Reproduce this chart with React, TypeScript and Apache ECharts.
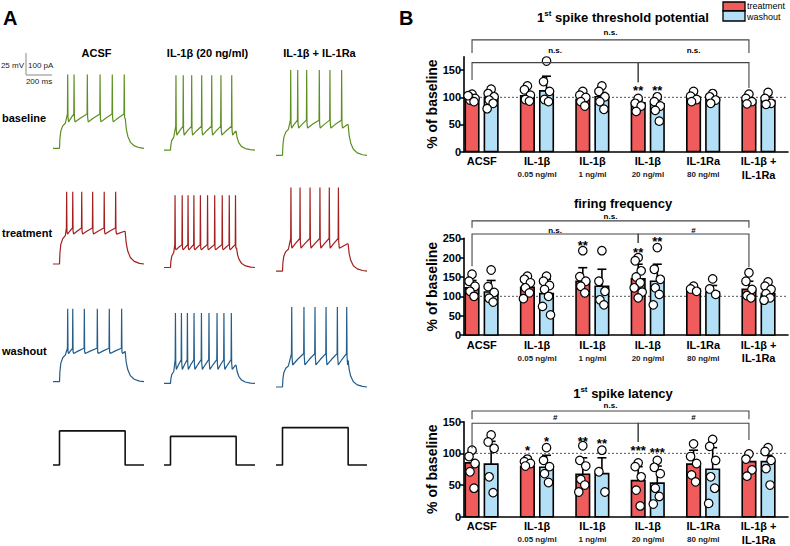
import React, { useEffect, useRef } from 'react';
import * as echarts from 'echarts';

// ---------------- Panel B data ----------------
const groupNames = ['ACSF', 'IL-1β', 'IL-1β', 'IL-1β', 'IL-1Ra', 'IL-1β +'];
const groupDoses = ['', '0.05 ng/ml', '1 ng/ml', '20 ng/ml', '80 ng/ml', 'IL-1Ra'];

// 1st spike threshold potential
const thrTreatMean = [100, 103, 96, 90, 100, 95];
const thrTreatSem = [3, 5, 4, 5, 2, 3];
const thrWashMean = [100, 112, 101, 88, 98, 94];
const thrWashSem = [5, 27, 8, 8, 3, 6];
const thrTreatPts = [[106, 101, 98, 95, 92, 103], [121, 114, 104, 96, 93], [111, 104, 100, 92, 84], [98, 89, 84, 74], [111, 102, 96, 92], [106, 98, 92, 88]];
const thrWashPts = [[115, 107, 101, 95, 89, 79], [167, 129, 111, 96, 92], [121, 111, 101, 92, 78], [101, 92, 84, 76, 56], [107, 101, 95, 89], [109, 98, 89, 87]];

// firing frequency
const freqTreatMean = [122, 123, 139, 145, 118, 118];
const freqTreatSem = [19, 19, 35, 38, 3, 21];
const freqWashMean = [111, 107, 126, 139, 111, 107];
const freqWashSem = [30, 37, 44, 44, 17, 18];
const freqTreatPts = [[157, 139, 126, 113, 100], [152, 144, 135, 122, 109, 94], [218, 151, 139, 126, 109], [200, 192, 166, 150, 135, 122, 111, 96], [126, 119, 113], [161, 139, 118, 102, 96]];
const freqWashPts = [[168, 125, 110, 95, 85], [152, 139, 128, 118, 100, 74, 52], [218, 139, 113, 91, 78], [226, 170, 144, 122, 105, 78], [145, 119, 105], [137, 126, 118, 107, 96, 90]];

// 1st spike latency
const latTreatMean = [85, 79, 67, 57, 83, 87];
const latTreatSem = [18, 10, 26, 22, 22, 13];
const latWashMean = [83, 78, 68, 53, 75, 87];
const latWashSem = [36, 19, 25, 27, 34, 10];
const latTreatPts = [[105, 95, 84, 71, 45], [91, 87, 84, 80], [112, 89, 80, 59, 50, 39], [85, 79, 63, 42, 17], [115, 95, 84, 66, 55], [99, 91, 74, 64]];
const latWashPts = [[129, 118, 108, 63, 38], [109, 89, 79, 68, 54], [105, 71, 39], [89, 78, 68, 45, 32, 20], [122, 111, 89, 63, 45, 21], [109, 103, 89, 76, 50]];

// significance vs baseline: [group, side(0 treat,1 wash), label, y]
const thrStars = [[3, 0, '**', 112], [3, 1, '**', 112]];
const freqStars = [[2, 0, '**', 232], [3, 0, '**', 213], [3, 1, '**', 241]];
const latStars = [[1, 0, '*', 104], [1, 1, '*', 118], [2, 0, '**', 119], [2, 1, '**', 116], [3, 0, '***', 104], [3, 1, '***', 101]];

// comparisons between groups: [from, to]
const comparisons = [[0, 5], [0, 3], [3, 5]];
const thrCompLabels = ['n.s.', 'n.s.', 'n.s.'];
const freqCompLabels = ['n.s.', 'n.s.', '#'];
const latCompLabels = ['n.s.', '#', '#'];

// ---------------- Panel A data ----------------
const colTitles = ['ACSF', 'IL-1β (20 ng/ml)', 'IL-1β + IL-1Ra'];
const rowTitles = ['baseline', 'treatment', 'washout'];
// spike times (ms) per row / column
const baselineSpikes = [[113, 162, 264, 362, 456, 548], [92, 148, 213, 290, 367, 438, 521], [113, 167, 236, 333, 415, 505]];
const treatmentSpikes = [[105, 152, 221, 305, 394, 482], [85, 140, 185, 230, 280, 335, 390, 448, 502, 550], [115, 185, 262, 338, 410, 480]];
const washoutSpikes = [[113, 152, 241, 341, 433, 528], [88, 134, 180, 231, 288, 346, 408, 461, 518], [121, 215, 300, 385, 472, 544]];
// membrane levels (mV): rest, plateau trough, spike threshold, spike peak
const restMv = [[-70, -72, -78], [-70, -74, -78], [-70, -72, -76]];
const plateauMv = [[-40, -55, -47], [-36, -54, -52], [-38, -56, -51]];
const thresholdMv = [[-31, -45, -38], [-29, -48, -41], [-32, -45, -38]];
const peakMv = [[14, 13, 19], [12, 8, 17], [13, 8, 15]];
const stepPa = [155, 130, 170];
const sweepMs = { on: 50, off: 555, end: 700 };

// ---------------- layout ----------------
const FONT = '"Liberation Sans", Arial, Helvetica, sans-serif';
const RED = '#F05B5B';
const BLUE = '#B3E0F6';
const traceColors = ['#5E8F22', '#A3201F', '#225D8C'];
const BL = 464, BW = 324;
const X_MIN = -0.32, X_MAX = 5.53;
const UNIT_PX = BW / (X_MAX - X_MIN);
const OFF_T = -0.175, OFF_W = 0.17;
const JIT_PX = [0, -3, 3, -2, 2, -4, 4, 0, -1];
const bGrids = [
  { top: 56.7, height: 94.8, max: 175 },
  { top: 238.3, height: 96.7, max: 250 },
  { top: 421.7, height: 95, max: 150 },
];
// bracket geometry (data units): [top, dropLeft, dropRight, labelY]
const bracketGeom = [
  [[206, 182, 182, 219], [164, 132, 128, 187], [164, 128, 117, 187]],
  [[295, 277, 277, 306], [261, 178, 238, 271], [261, 238, 176, 271]],
  [[167, 154, 154, 175], [147.5, 108, 118, 156], [147.5, 118, 121, 156]],
];
const colLeft = [53, 164, 276];
const traceW = 91;
const MV_PX = 0.88;
const rowZero = [86.7, 202.4, 320.1];
const curTop = 421, PA_PX = 0.22;

function buildTrace(sp: number[], R: number, P: number, T: number, S: number) {
  const pts: number[][] = [[0, R], [sweepMs.on, R]];
  const first = sp[0];
  const charge = [[3, 0.35], [10, 0.65], [25, 0.85], [45, 0.95]];
  for (const [dt, f] of charge) if (sweepMs.on + dt < first - 3) pts.push([sweepMs.on + dt, R + (P - R) * f]);
  sp.forEach((t, i) => {
    pts.push([t - 2, T]);
    pts.push([t, S]);
    pts.push([t + 2.5, T - 4]);
    const next = sp[i + 1];
    const trough = t + 7;
    if (next !== undefined) {
      pts.push([trough, P]);
      pts.push([trough + (next - trough) * 0.45, P + (T - P) * 0.5]);
    } else if (trough < sweepMs.off) {
      pts.push([trough, P]);
      if (sweepMs.off - trough > 20) pts.push([sweepMs.off - 5, P + (T - P) * 0.45]);
    }
  });
  const lastT = Math.max(sweepMs.off, sp[sp.length - 1] + 8);
  const vEnd = P + (T - P) * 0.4;
  pts.push([lastT, vEnd]);
  const decay = [[8, 0.35], [20, 0.6], [40, 0.8], [70, 0.92], [110, 0.98]];
  for (const [dt, f] of decay) pts.push([lastT + dt, vEnd + (R - vEnd) * f]);
  pts.push([sweepMs.end, R]);
  return pts;
}

export default function App() {
  const ref = useRef<HTMLDivElement>(null);
  useEffect(() => {
    if (!ref.current) return;
    const chart = echarts.init(ref.current, undefined, { renderer: 'svg' });

    const grid: any[] = [];
    const xAxis: any[] = [];
    const yAxis: any[] = [];
    const series: any[] = [];

    const chartsData = [
      { tm: thrTreatMean, ts: thrTreatSem, wm: thrWashMean, ws: thrWashSem, tp: thrTreatPts, wp: thrWashPts, stars: thrStars, labels: thrCompLabels },
      { tm: freqTreatMean, ts: freqTreatSem, wm: freqWashMean, ws: freqWashSem, tp: freqTreatPts, wp: freqWashPts, stars: freqStars, labels: freqCompLabels },
      { tm: latTreatMean, ts: latTreatSem, wm: latWashMean, ws: latWashSem, tp: latTreatPts, wp: latWashPts, stars: latStars, labels: latCompLabels },
    ];

    chartsData.forEach((cd, k) => {
      const g = bGrids[k];
      grid.push({ left: BL, top: g.top, width: BW, height: g.height });
      const ticks: number[] = [];
      for (let v = 0; v <= g.max; v += 50) ticks.push(v);
      xAxis.push({
        type: 'value', gridIndex: k, min: X_MIN, max: X_MAX,
        splitLine: { show: false },
        axisLine: { show: true, onZero: false, lineStyle: { color: '#000', width: 1.6 } },
        axisTick: { show: false },
        axisLabel: {
          customValues: [0, 1, 2, 3, 4, 5], margin: 3, color: '#000',
          formatter: (v: number) => {
            const i = Math.round(v);
            return i === 5 ? `{a|${groupNames[i]}}\n{c|${groupDoses[i]}}` : `{a|${groupNames[i]}}\n{b|${groupDoses[i] || ' '}}`;
          },
          rich: {
            a: { fontFamily: FONT, fontSize: 11, fontWeight: 'bold', lineHeight: 13, color: '#000' },
            b: { fontFamily: FONT, fontSize: 8, fontWeight: 'bold', lineHeight: 14, color: '#222' },
            c: { fontFamily: FONT, fontSize: 11, fontWeight: 'bold', lineHeight: 14, color: '#000' },
          },
        },
      });
      yAxis.push({
        type: 'value', gridIndex: k, min: 0, max: g.max,
        name: '% of baseline', nameLocation: 'middle', nameGap: 25,
        nameTextStyle: { fontFamily: FONT, fontSize: 14, fontWeight: 'bold', color: '#000' },
        splitLine: { show: false },
        axisLine: { show: true, onZero: false, lineStyle: { color: '#000', width: 1.6 } },
        axisTick: { show: true, length: 4, customValues: ticks, lineStyle: { color: '#000', width: 1.5 } },
        axisLabel: { customValues: ticks, margin: 3, fontFamily: FONT, fontSize: 11, fontWeight: 'bold', color: '#000' },
      });
      // reference line at 100 %
      series.push({
        type: 'line', xAxisIndex: k, yAxisIndex: k, z: 1, silent: true, symbol: 'none',
        data: [[X_MIN, 100], [X_MAX, 100]],
        lineStyle: { color: '#555', width: 1, type: [2, 2] },
      });
      // bars + error bars
      const barData: number[][] = [];
      for (let i = 0; i < 6; i++) {
        barData.push([i, cd.tm[i], cd.ts[i], OFF_T, 0]);
        barData.push([i, cd.wm[i], cd.ws[i], OFF_W, 1]);
      }
      series.push({
        type: 'custom', xAxisIndex: k, yAxisIndex: k, z: 2, silent: true,
        data: barData, encode: { x: 0, y: 1 },
        renderItem: (_p: any, api: any) => {
          const gi = api.value(0), m = api.value(1), s = api.value(2), off = api.value(3), side = api.value(4);
          const top = api.coord([gi + off, m]);
          const base = api.coord([gi + off, 0]);
          const err = api.coord([gi + off, m + s]);
          const bw = 13.5;
          return {
            type: 'group',
            children: [
              { type: 'line', shape: { x1: top[0], y1: top[1], x2: top[0], y2: err[1] }, style: { stroke: '#000', lineWidth: 1.6 } },
              { type: 'line', shape: { x1: top[0] - 4.5, y1: err[1], x2: top[0] + 4.5, y2: err[1] }, style: { stroke: '#000', lineWidth: 1.6 } },
              { type: 'rect', shape: { x: top[0] - bw / 2, y: top[1], width: bw, height: base[1] - top[1] }, style: { fill: side === 0 ? RED : BLUE, stroke: '#000', lineWidth: 1.6 } },
            ],
          };
        },
      });
      // individual points
      const pts: number[][] = [];
      cd.tp.forEach((arr, i) => arr.forEach((v, j) => pts.push([i + OFF_T + JIT_PX[j % JIT_PX.length] / UNIT_PX, v])));
      cd.wp.forEach((arr, i) => arr.forEach((v, j) => pts.push([i + OFF_W + JIT_PX[j % JIT_PX.length] / UNIT_PX, v])));
      series.push({
        type: 'scatter', xAxisIndex: k, yAxisIndex: k, z: 3, silent: true, symbolSize: 8.5,
        data: pts, itemStyle: { color: '#fff', borderColor: '#000', borderWidth: 1.2, opacity: 1 },
      });
      // stars
      series.push({
        type: 'custom', xAxisIndex: k, yAxisIndex: k, z: 4, silent: true,
        data: cd.stars.map((s: any) => [s[0], s[3], s[1]]), encode: { x: 0, y: 1 },
        renderItem: (p: any, api: any) => {
          const st = cd.stars[p.dataIndex] as any[];
          const pos = api.coord([api.value(0) + (api.value(2) === 0 ? OFF_T : OFF_W), api.value(1)]);
          return { type: 'text', x: pos[0], y: pos[1], style: { text: st[2], fill: '#000', font: `bold 13px ${FONT}`, align: 'center', verticalAlign: 'middle' } };
        },
      });
      // comparison brackets
      series.push({
        type: 'custom', xAxisIndex: k, yAxisIndex: k, z: 4, silent: true, clip: false,
        data: comparisons.map((c) => [c[0], c[1]]),
        renderItem: (p: any, api: any) => {
          const c = comparisons[p.dataIndex];
          const geo = bracketGeom[k][p.dataIndex];
          const xl = c[0] + OFF_T, xr = c[1] + OFF_T;
          const a = api.coord([xl, geo[1]]);
          const b = api.coord([xl, geo[0]]);
          const cc = api.coord([xr, geo[0]]);
          const d = api.coord([xr, geo[2]]);
          const t = api.coord([(xl + xr) / 2, geo[3]]);
          return {
            type: 'group',
            children: [
              { type: 'polyline', shape: { points: [a, b, cc, d] }, style: { stroke: '#444', lineWidth: 1.1, fill: 'none' } },
              { type: 'text', x: t[0], y: t[1], style: { text: cd.labels[p.dataIndex], fill: '#000', font: `bold 8px ${FONT}`, align: 'center', verticalAlign: 'middle' } },
            ],
          };
        },
      });
    });

    // Panel A traces
    const spikeRows = [baselineSpikes, treatmentSpikes, washoutSpikes];
    let gi = 3;
    for (let r = 0; r < 3; r++) {
      for (let c = 0; c < 3; c++) {
        grid.push({ left: colLeft[c], top: rowZero[r] - 30 * MV_PX, width: traceW, height: 120 * MV_PX });
        xAxis.push({ type: 'value', gridIndex: gi, min: 0, max: sweepMs.end, show: false });
        yAxis.push({ type: 'value', gridIndex: gi, min: -90, max: 30, show: false });
        series.push({
          type: 'line', xAxisIndex: gi, yAxisIndex: gi, symbol: 'none', silent: true,
          data: buildTrace(spikeRows[r][c], restMv[r][c], plateauMv[r][c], thresholdMv[r][c], peakMv[r][c]),
          lineStyle: { color: traceColors[r], width: 1.2 },
        });
        gi++;
      }
    }
    for (let c = 0; c < 3; c++) {
      grid.push({ left: colLeft[c], top: curTop, width: traceW, height: 220 * PA_PX });
      xAxis.push({ type: 'value', gridIndex: gi, min: 0, max: sweepMs.end, show: false });
      yAxis.push({ type: 'value', gridIndex: gi, min: -20, max: 200, show: false });
      const I = stepPa[c];
      series.push({
        type: 'line', xAxisIndex: gi, yAxisIndex: gi, symbol: 'none', silent: true,
        data: [[0, 0], [sweepMs.on, 0], [sweepMs.on, I], [sweepMs.off, I], [sweepMs.off, 0], [sweepMs.end, 0]],
        lineStyle: { color: '#111', width: 1.6 },
      });
      gi++;
    }

    const txt = (x: number, y: number, text: string, size: number, weight = 'bold', align = 'left', color = '#000') => ({
      type: 'text', x, y, silent: true,
      style: { text, fill: color, font: `${weight} ${size}px ${FONT}`, align, verticalAlign: 'middle' },
    });
    const titleRich = {
      a: { fontFamily: FONT, fontSize: 13, fontWeight: 'bold', color: '#000', lineHeight: 16 },
      s: { fontFamily: FONT, fontSize: 8, fontWeight: 'bold', color: '#000', lineHeight: 16, verticalAlign: 'top', padding: [0, 0, 4, 0] },
    };
    const graphic: any[] = [
      txt(3, 18, 'A', 20),
      txt(399, 18, 'B', 20),
      ...colTitles.map((t, i) => txt(colLeft[i] + traceW / 2 - 2, 53, t, 11, 'bold', 'center')),
      ...rowTitles.map((t, i) => txt(2, [118, 233, 351][i], t, 11, 'bold', 'left')),
      // scale bar
      { type: 'line', silent: true, shape: { x1: 26, y1: 53, x2: 26, y2: 75 }, style: { stroke: '#888', lineWidth: 1 } },
      { type: 'line', silent: true, shape: { x1: 26, y1: 75, x2: 52, y2: 75 }, style: { stroke: '#888', lineWidth: 1 } },
      txt(24, 65, '25 mV', 8, 'normal', 'right', '#222'),
      txt(28, 65, '100 pA', 8, 'normal', 'left', '#222'),
      txt(39, 81, '200 ms', 8, 'normal', 'center', '#222'),
      // legend
      { type: 'rect', silent: true, shape: { x: 723, y: 2, width: 22, height: 9 }, style: { fill: RED, stroke: '#000', lineWidth: 1.3 } },
      { type: 'rect', silent: true, shape: { x: 723, y: 11, width: 22, height: 10 }, style: { fill: BLUE, stroke: '#000', lineWidth: 1.3 } },
      txt(747, 6, 'treatment', 9, 'normal', 'left'),
      txt(747, 16.5, 'washout', 9, 'normal', 'left'),
      // chart titles
      { type: 'text', silent: true, x: 623, y: 17, style: { text: '{a|1}{s|st}{a| spike threshold potential}', rich: titleRich, align: 'center', verticalAlign: 'middle' } },
      { type: 'text', silent: true, x: 623, y: 203, style: { text: '{a|firing frequency}', rich: titleRich, align: 'center', verticalAlign: 'middle' } },
      { type: 'text', silent: true, x: 623, y: 393, style: { text: '{a|1}{s|st}{a| spike latency}', rich: titleRich, align: 'center', verticalAlign: 'middle' } },
    ];

    chart.setOption({
      animation: false,
      backgroundColor: '#fff',
      grid, xAxis, yAxis, series, graphic,
    });
    return () => chart.dispose();
  }, []);
  return <div ref={ref} style={{ position: 'absolute', left: 0, top: 0, width: 790, height: 546, background: '#fff' }} />;
}
